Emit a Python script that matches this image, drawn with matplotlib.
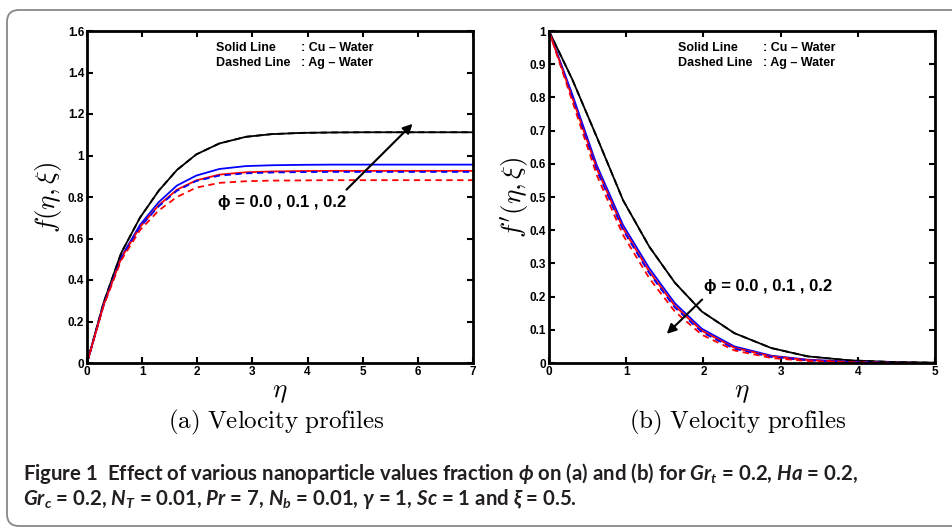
import numpy as np
import matplotlib
matplotlib.use("Agg")
import matplotlib.pyplot as plt
from matplotlib.patches import FancyBboxPatch
from matplotlib.transforms import IdentityTransform

# similarity grid (non-uniform, as in the solver output)
eta = [0, 0.30, 0.62, 0.96, 1.30, 1.63, 1.98, 2.40, 2.88, 3.35, 3.89, 4.45, 5.05, 5.70, 6.35, 7.00]
eta_b = [0, 0.30, 0.62, 0.96, 1.30, 1.63, 1.98, 2.40, 2.88, 3.35, 3.89, 4.45, 5.00]

# (a) f(eta, xi)
f_cu_00 = [0, 0.29, 0.53, 0.70, 0.83, 0.93, 1.005, 1.058, 1.090, 1.103, 1.109, 1.111, 1.112, 1.112, 1.112, 1.112]
f_cu_01 = [0, 0.28, 0.51, 0.665, 0.775, 0.855, 0.903, 0.935, 0.949, 0.953, 0.955, 0.956, 0.956, 0.956, 0.956, 0.956]
f_cu_02 = [0, 0.28, 0.505, 0.655, 0.76, 0.835, 0.880, 0.908, 0.919, 0.923, 0.925, 0.926, 0.926, 0.926, 0.926, 0.926]
f_ag_00 = [0, 0.29, 0.53, 0.70, 0.83, 0.93, 1.005, 1.058, 1.090, 1.103, 1.109, 1.111, 1.112, 1.112, 1.112, 1.112]
f_ag_01 = [0, 0.28, 0.505, 0.655, 0.755, 0.83, 0.877, 0.903, 0.914, 0.918, 0.920, 0.921, 0.921, 0.921, 0.921, 0.921]
f_ag_02 = [0, 0.275, 0.495, 0.64, 0.735, 0.80, 0.845, 0.868, 0.876, 0.879, 0.880, 0.881, 0.881, 0.881, 0.881, 0.881]

# (b) f'(eta, xi)
fp_cu_00 = [1, 0.855, 0.68, 0.49, 0.35, 0.242, 0.155, 0.09, 0.045, 0.02, 0.008, 0.003, 0.001]
fp_cu_01 = [1, 0.81, 0.595, 0.415, 0.285, 0.18, 0.103, 0.05, 0.022, 0.01, 0.004, 0.001, 0]
fp_cu_02 = [1, 0.80, 0.585, 0.405, 0.275, 0.172, 0.097, 0.046, 0.02, 0.009, 0.003, 0.001, 0]
fp_ag_00 = [1, 0.855, 0.68, 0.49, 0.35, 0.242, 0.155, 0.09, 0.045, 0.02, 0.008, 0.003, 0.001]
fp_ag_01 = [1, 0.80, 0.58, 0.40, 0.27, 0.167, 0.093, 0.043, 0.018, 0.008, 0.003, 0.001, 0]
fp_ag_02 = [1, 0.79, 0.565, 0.385, 0.255, 0.155, 0.085, 0.038, 0.015, 0.006, 0.002, 0.0005, 0]

xticks_a = [0, 1, 2, 3, 4, 5, 6, 7]
yticks_a = [0, 0.2, 0.4, 0.6, 0.8, 1.0, 1.2, 1.4, 1.6]
ylabels_a = ["0", "0.2", "0.4", "0.6", "0.8", "1", "1.2", "1.4", "1.6"]
xticks_b = [0, 1, 2, 3, 4, 5]
yticks_b = [0, 0.1, 0.2, 0.3, 0.4, 0.5, 0.6, 0.7, 0.8, 0.9, 1.0]
ylabels_b = ["0", "0.1", "0.2", "0.3", "0.4", "0.5", "0.6", "0.7", "0.8", "0.9", "1"]

phi_colors = ["k", "b", "r"]

plt.rcParams["font.family"] = ["Liberation Sans", "DejaVu Sans"]
plt.rcParams["mathtext.fontset"] = "custom"
plt.rcParams["mathtext.rm"] = "Lato:bold"
plt.rcParams["mathtext.it"] = "Lato:italic:bold"
plt.rcParams["mathtext.bf"] = "Lato:bold"

fig = plt.figure(figsize=(9.53, 5.28), dpi=100)

# rounded frame around the whole figure
frame = FancyBboxPatch((7, 2), 1000, 516, boxstyle="round,pad=0,rounding_size=12",
                       transform=IdentityTransform(), facecolor="none",
                       edgecolor="#888888", lw=1.3)
fig.patches.append(frame)

ax1 = fig.add_axes([87/953, 1 - 363/528, 386/953, 332/528])
ax2 = fig.add_axes([549/953, 1 - 363/528, 386/953, 332/528])


def style_axes(ax, xt, yt, ylab):
    ax.set_xticks(xt)
    ax.set_xticklabels([str(v) for v in xt])
    ax.set_yticks(yt)
    ax.set_yticklabels(ylab)
    ax.tick_params(direction="in", length=4, width=1.5, top=True, right=True,
                   labelsize=8.5, pad=2)
    for lab in ax.get_xticklabels() + ax.get_yticklabels():
        lab.set_fontweight("bold")
    for s in ax.spines.values():
        s.set_linewidth(2)


dash = (0, (3.5, 2.5))
phi_txt = "\u03d5 = 0.0 , 0.1 , 0.2"

# (a)
for y, c in zip([f_cu_00, f_cu_01, f_cu_02], phi_colors):
    ax1.plot(eta, y, color=c, lw=1.3)
for y, c in zip([f_ag_00, f_ag_01, f_ag_02], phi_colors):
    ax1.plot(eta, y, color=c, lw=1.3, linestyle=dash)
ax1.set_xlim(0, 7)
ax1.set_ylim(0, 1.6)
style_axes(ax1, xticks_a, yticks_a, ylabels_a)
ax1.set_xlabel(r"$\eta$", fontsize=19.5, math_fontfamily="cm", labelpad=1)
ax1.set_ylabel(r"$f(\eta,\xi)$", fontsize=19.5, math_fontfamily="cm", labelpad=3)
ax1.annotate("", xy=(5.94, 1.162), xytext=(4.67, 0.826),
             arrowprops=dict(arrowstyle="-|>", color="k", lw=1.5, mutation_scale=14))
ax1.text(2.38, 0.773, phi_txt, fontsize=12, fontweight="bold",
         ha="left", va="center")

# (b)
for y, c in zip([fp_cu_00, fp_cu_01, fp_cu_02], phi_colors):
    ax2.plot(eta_b, y, color=c, lw=1.3)
for y, c in zip([fp_ag_00, fp_ag_01, fp_ag_02], phi_colors):
    ax2.plot(eta_b, y, color=c, lw=1.3, linestyle=dash)
ax2.set_xlim(0, 5)
ax2.set_ylim(0, 1)
style_axes(ax2, xticks_b, yticks_b, ylabels_b)
ax2.set_xlabel(r"$\eta$", fontsize=19.5, math_fontfamily="cm", labelpad=1)
ax2.set_ylabel(r"$f'(\eta,\xi)$", fontsize=19.5, math_fontfamily="cm", labelpad=-1)
ax2.annotate("", xy=(1.50, 0.082), xytext=(2.01, 0.197),
             arrowprops=dict(arrowstyle="-|>", color="k", lw=1.5, mutation_scale=14))
ax2.text(2.01, 0.23, phi_txt, fontsize=12, fontweight="bold",
         ha="left", va="center")

for ax in (ax1, ax2):
    ax.text(0.334, 0.95, "Solid Line", transform=ax.transAxes, fontsize=9,
            fontweight="bold", va="center")
    ax.text(0.334, 0.905, "Dashed Line", transform=ax.transAxes, fontsize=9,
            fontweight="bold", va="center")
    ax.text(0.555, 0.95, ": Cu \u2013 Water", transform=ax.transAxes, fontsize=9,
            fontweight="bold", va="center")
    ax.text(0.555, 0.905, ": Ag \u2013 Water", transform=ax.transAxes, fontsize=9,
            fontweight="bold", va="center")

# sub-captions
fig.text(276/953, 1 - 422/528, r"$\mathrm{(a)\ Velocity\ profiles}$", fontsize=18,
         math_fontfamily="cm", ha="center", va="center")
fig.text(738/953, 1 - 422/528, r"$\mathrm{(b)\ Velocity\ profiles}$", fontsize=18,
         math_fontfamily="cm", ha="center", va="center")

# figure caption
cap1 = (r"Figure 1  Effect of various nanoparticle values fraction $\phi$ on (a) and (b) "
        r"for $Gr_t$ = 0.2, $Ha$ = 0.2,")
cap2 = (r"$Gr_c$ = 0.2, $N_T$ = 0.01, $Pr$ = 7, $N_b$ = 0.01, $\gamma$ = 1, "
        r"$Sc$ = 1 and $\xi$ = 0.5.")
fig.text(23/953, 1 - 480/528, cap1, fontsize=14.7, family="Lato",
         fontweight="bold", color="#231f20", ha="left", va="baseline")
fig.text(23/953, 1 - 505/528, cap2, fontsize=14.7, family="Lato",
         fontweight="bold", color="#231f20", ha="left", va="baseline")

fig.savefig("out.png", dpi=100)
